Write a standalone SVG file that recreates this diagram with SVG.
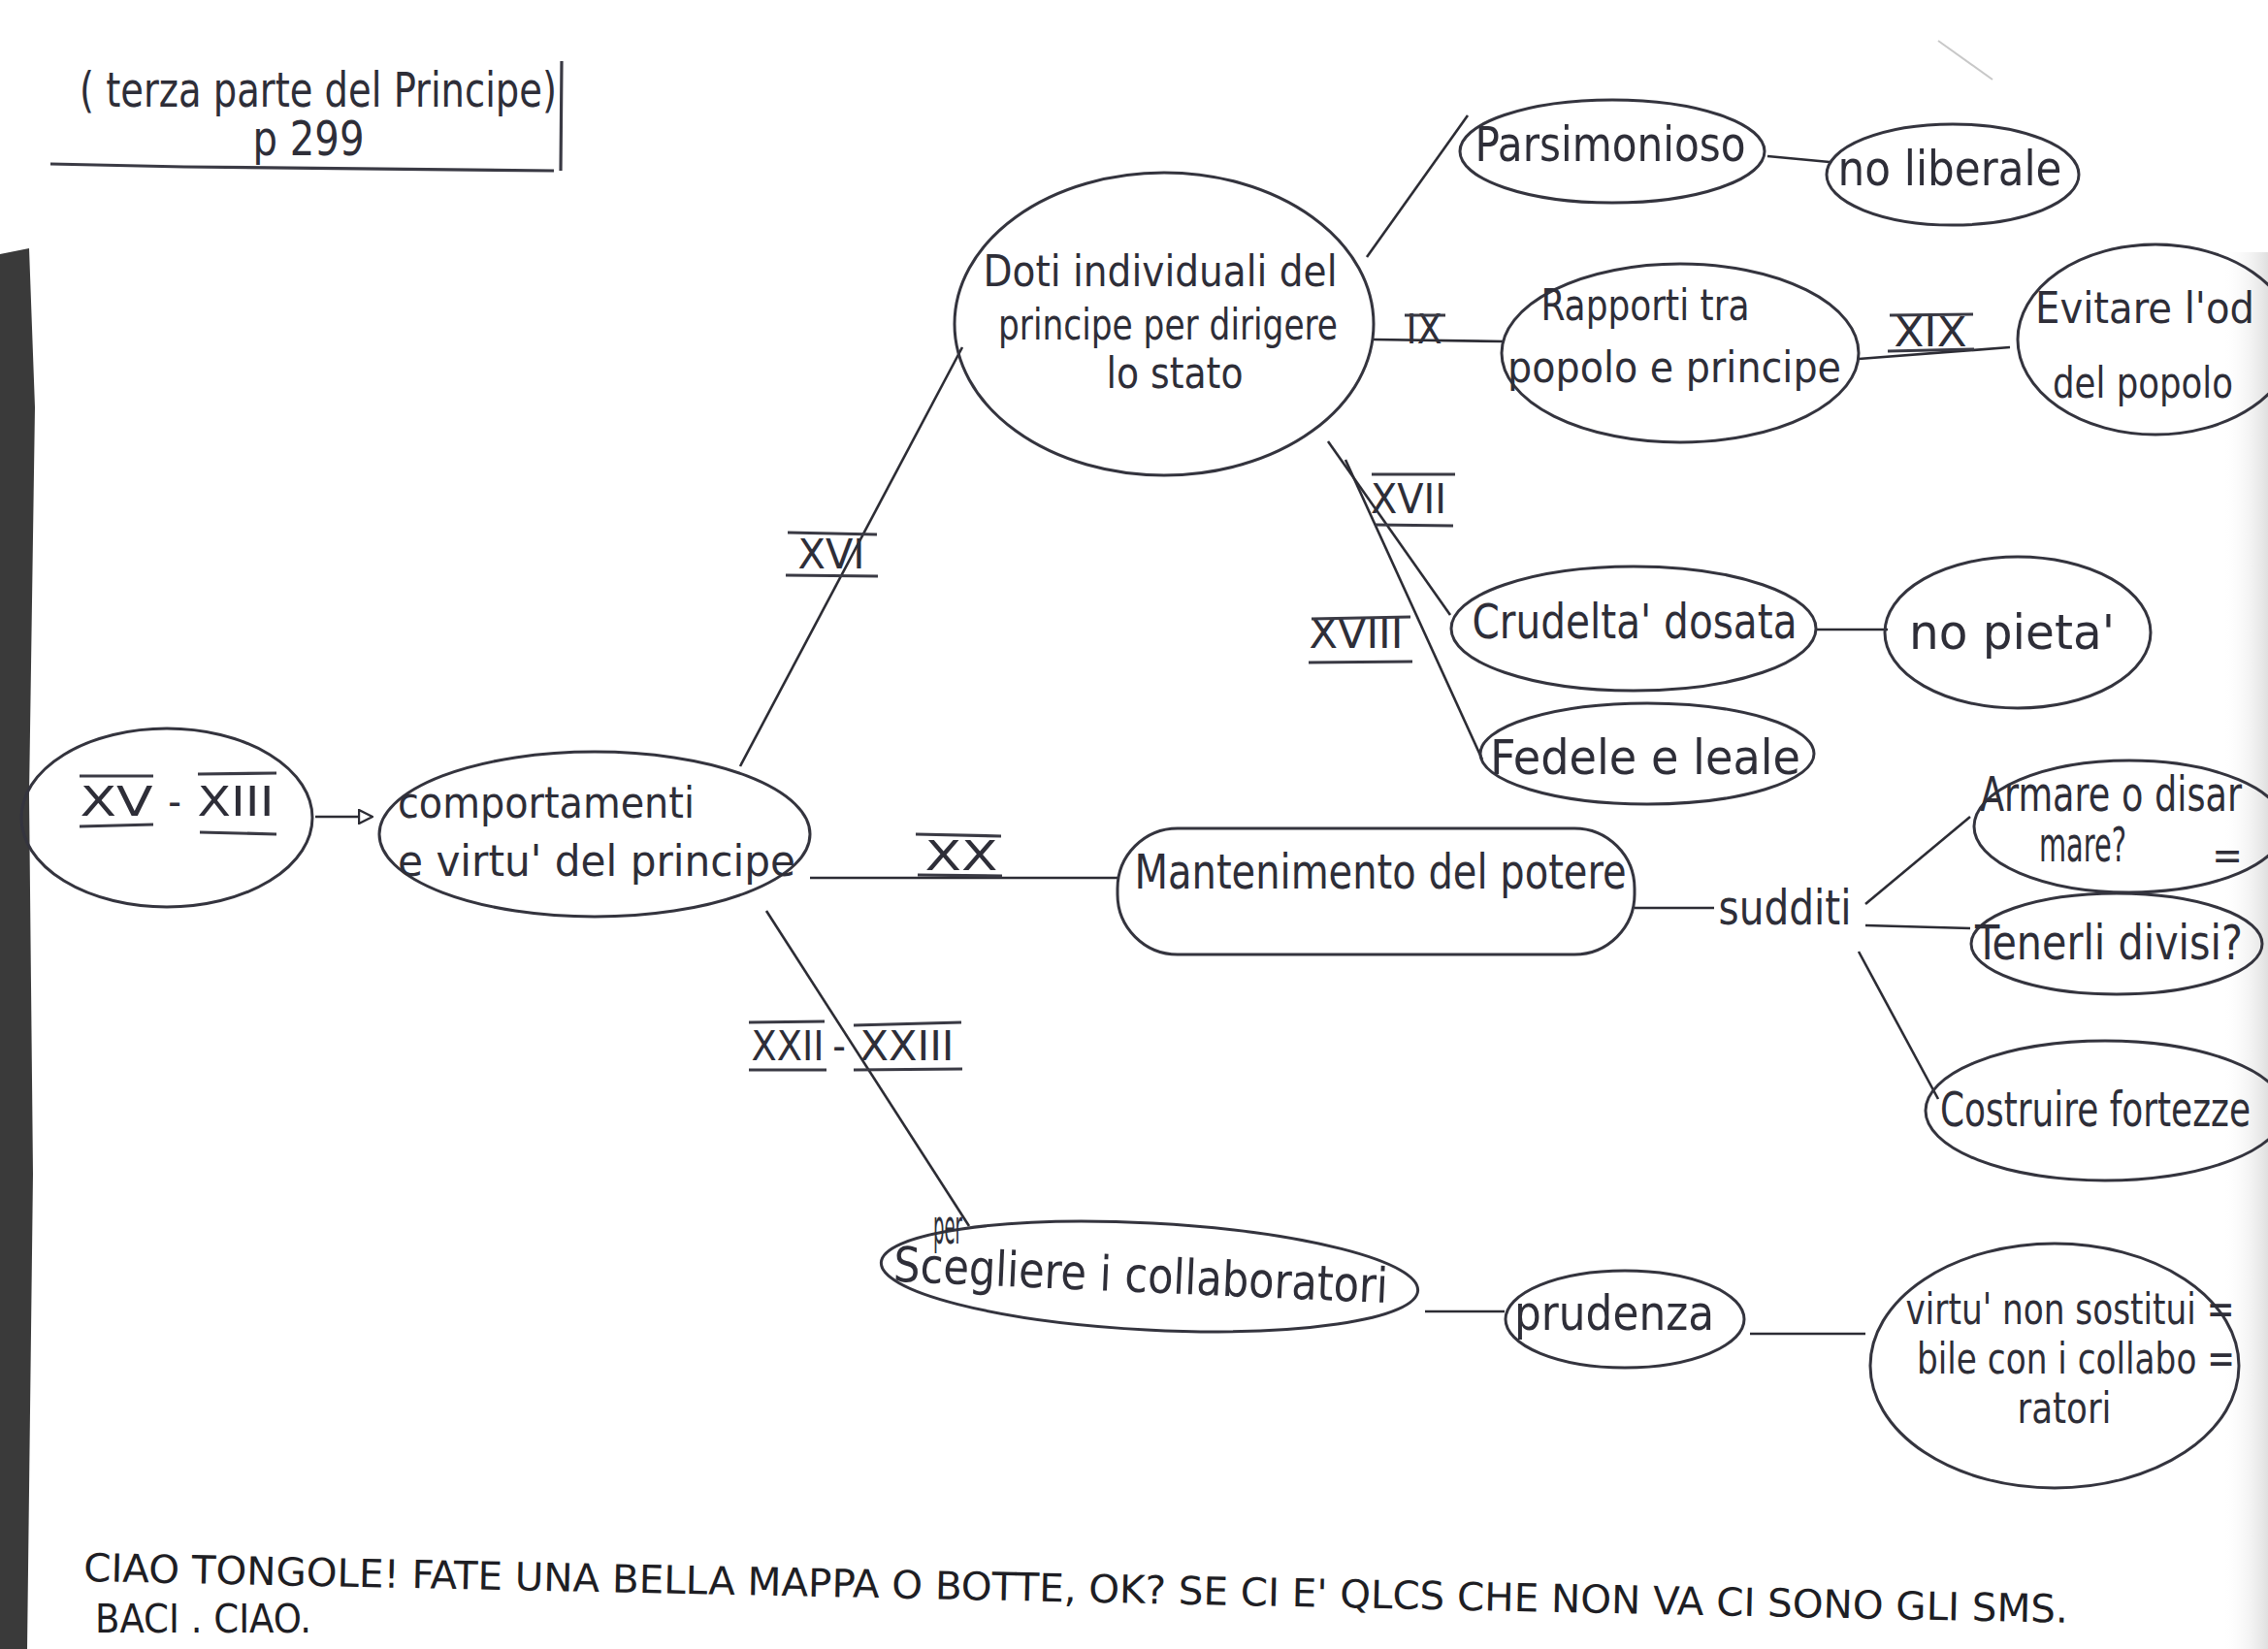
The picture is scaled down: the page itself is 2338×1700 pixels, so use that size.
<svg xmlns="http://www.w3.org/2000/svg" width="2338" height="1700" viewBox="0 0 2338 1700">
<defs>
<style>
.bg{fill:#ffffff}
.node{fill:none;stroke:#34343e;stroke-width:3}
.edge{fill:none;stroke:#2c2c34;stroke-width:2.6}
.rule{fill:none;stroke:#3a3a44;stroke-width:3.2}
.t{font-family:"Liberation Sans Narrow","DejaVu Sans Condensed","Liberation Sans",sans-serif;fill:#2e2e38;font-size:50px;text-anchor:middle}
.m{font-size:44px}
.rn{font-family:"Liberation Sans Narrow","DejaVu Sans Condensed","Liberation Sans",sans-serif;fill:#2e2e38;font-size:42px;text-anchor:middle}
.foot{font-family:"Liberation Sans Narrow","DejaVu Sans Condensed","Liberation Sans",sans-serif;fill:#1e1e24;font-size:40px}
</style>
<marker id="openTri" viewBox="0 0 16 16" refX="2" refY="8" markerWidth="16" markerHeight="16" markerUnits="userSpaceOnUse" orient="auto">
<path d="M1,1 L15,8 L1,15 Z" fill="#fff" stroke="#2c2c34" stroke-width="2.4"/>
</marker>
<linearGradient id="rightShade" x1="0" y1="0" x2="1" y2="0">
<stop offset="0" stop-color="#ffffff" stop-opacity="0"/>
<stop offset="1" stop-color="#d8d8d8" stop-opacity="0.8"/>
</linearGradient>
</defs>
<rect class="bg" x="0" y="0" width="2338" height="1700"/>
<rect x="2290" y="260" width="48" height="1440" fill="url(#rightShade)"/>
<polygon points="0,262 30,256 36,420 30,820 34,1210 28,1700 0,1700" fill="#3a3a3a"/>
<line x1="1998" y1="42" x2="2054" y2="82" stroke="#c8c8c8" stroke-width="2"/>

<g id="title">
<text class="t" x="328" y="110" font-size="44" textLength="492" lengthAdjust="spacingAndGlyphs">( terza parte del Principe)</text>
<text class="t" x="318" y="160" font-size="42" textLength="115" lengthAdjust="spacingAndGlyphs">p 299</text>
<path class="rule" d="M52,169 L190,172 L571,176 M579,63 L578,176"/>
</g>

<g id="connectors">
<line class="edge" x1="325" y1="842" x2="371" y2="842" marker-end="url(#openTri)"/>
<line class="edge" x1="763" y1="790" x2="992" y2="358"/>
<line class="edge" x1="1409" y1="265" x2="1513" y2="119"/>
<line class="edge" x1="1822" y1="161" x2="1886" y2="167"/>
<line class="edge" x1="1416" y1="350" x2="1551" y2="352"/>
<line class="edge" x1="1916" y1="370" x2="2072" y2="358"/>
<line class="edge" x1="1369" y1="455" x2="1495" y2="634"/>
<line class="edge" x1="1387" y1="474" x2="1528" y2="783"/>
<line class="edge" x1="1871" y1="649" x2="1946" y2="649"/>
<line class="edge" x1="835" y1="905" x2="1153" y2="905"/>
<line class="edge" x1="1685" y1="936" x2="1767" y2="936"/>
<line class="edge" x1="1923" y1="932" x2="2031" y2="842"/>
<line class="edge" x1="1923" y1="954" x2="2031" y2="957"/>
<line class="edge" x1="1916" y1="981" x2="1998" y2="1133"/>
<line class="edge" x1="790" y1="939" x2="999" y2="1264"/>
<line class="edge" x1="1469" y1="1352" x2="1551" y2="1352"/>
<line class="edge" x1="1804" y1="1375" x2="1923" y2="1375"/>
</g>

<g id="edge-labels">
<g id="lbl-xvi">
<text class="rn" x="857" y="586" textLength="69" lengthAdjust="spacingAndGlyphs">XVI</text>
<path class="rule" d="M812,549 L904,551 M810,593 L905,594"/>
</g>
<g id="lbl-ix">
<text class="rn" x="1468" y="354" textLength="37" lengthAdjust="spacingAndGlyphs">IX</text>
<path class="rule" d="M1448,325 L1490,325"/>
</g>
<g id="lbl-xix">
<text class="rn" x="1990" y="357" textLength="75" lengthAdjust="spacingAndGlyphs">XIX</text>
<path class="rule" d="M1948,325 L2034,324 M1946,362 L2035,360"/>
</g>
<g id="lbl-xvii">
<text class="rn" x="1452" y="529" textLength="78" lengthAdjust="spacingAndGlyphs">XVII</text>
<path class="rule" d="M1414,489 L1500,489 M1418,541 L1498,542"/>
</g>
<g id="lbl-xviii">
<text class="rn" x="1398" y="668" textLength="97" lengthAdjust="spacingAndGlyphs">XVIII</text>
<path class="rule" d="M1352,638 L1454,636 M1349,683 L1456,682"/>
</g>
<g id="lbl-xx">
<text class="rn" x="991" y="897" textLength="75" lengthAdjust="spacingAndGlyphs">XX</text>
<path class="rule" d="M944,860 L1032,862 M946,902 L1033,903"/>
</g>
<g id="lbl-xxii">
<text class="rn" x="812" y="1093" textLength="75" lengthAdjust="spacingAndGlyphs">XXII</text>
<text class="rn" x="865" y="1093">-</text>
<text class="rn" x="935" y="1093" textLength="97" lengthAdjust="spacingAndGlyphs">XXIII</text>
<path class="rule" d="M772,1054 L850,1053 M880,1057 L991,1054 M772,1103 L852,1103 M880,1103 L992,1102"/>
</g>
</g>

<g id="node-xv">
<ellipse class="node" cx="172" cy="843" rx="150" ry="92"/>
<text class="rn" x="120" y="841" textLength="75" lengthAdjust="spacingAndGlyphs">XV</text>
<text class="rn" x="180" y="841">-</text>
<text class="rn" x="243" y="841" textLength="79" lengthAdjust="spacingAndGlyphs">XIII</text>
<path class="rule" d="M82,800 L158,800 M204,798 L285,797 M82,852 L158,850 M206,858 L285,860"/>
</g>

<g id="node-comportamenti">
<ellipse class="node" cx="613" cy="860" rx="222" ry="85"/>
<text class="t m" x="563" y="843" textLength="306" lengthAdjust="spacingAndGlyphs">comportamenti</text>
<text class="t m" x="615" y="903" textLength="410" lengthAdjust="spacingAndGlyphs">e virtu' del principe</text>
</g>

<g id="node-doti">
<ellipse class="node" cx="1200" cy="334" rx="216" ry="156"/>
<text class="t m" x="1196" y="295" textLength="365" lengthAdjust="spacingAndGlyphs">Doti individuali del</text>
<text class="t m" x="1204" y="350" textLength="350" lengthAdjust="spacingAndGlyphs">principe per dirigere</text>
<text class="t m" x="1211" y="400" textLength="141" lengthAdjust="spacingAndGlyphs">lo stato</text>
</g>

<g id="node-parsimonioso">
<ellipse class="node" cx="1662" cy="156" rx="157" ry="53"/>
<text class="t" x="1660" y="166" textLength="279" lengthAdjust="spacingAndGlyphs">Parsimonioso</text>
</g>

<g id="node-noliberale">
<ellipse class="node" cx="2013" cy="180" rx="130" ry="52"/>
<text class="t" x="2010" y="191" textLength="231" lengthAdjust="spacingAndGlyphs">no liberale</text>
</g>

<g id="node-rapporti">
<ellipse class="node" cx="1732" cy="364" rx="184" ry="92"/>
<text class="t m" x="1696" y="330" textLength="215" lengthAdjust="spacingAndGlyphs">Rapporti tra</text>
<text class="t m" x="1726" y="394" textLength="344" lengthAdjust="spacingAndGlyphs">popolo e principe</text>
</g>

<g id="node-evitare">
<ellipse class="node" cx="2222" cy="350" rx="142" ry="98"/>
<text class="t m" x="2211" y="333" textLength="226" lengthAdjust="spacingAndGlyphs">Evitare l'od</text>
<text class="t m" x="2209" y="410" textLength="186" lengthAdjust="spacingAndGlyphs">del popolo</text>
</g>

<g id="node-crudelta">
<ellipse class="node" cx="1684" cy="648" rx="188" ry="64"/>
<text class="t" x="1685" y="658" textLength="335" lengthAdjust="spacingAndGlyphs">Crudelta' dosata</text>
</g>

<g id="node-pieta">
<ellipse class="node" cx="2080" cy="652" rx="137" ry="78"/>
<text class="t" x="2074" y="669" textLength="212" lengthAdjust="spacingAndGlyphs">no pieta'</text>
</g>

<g id="node-fedele">
<ellipse class="node" cx="1698" cy="777" rx="172" ry="52"/>
<text class="t" x="1696" y="798" textLength="320" lengthAdjust="spacingAndGlyphs">Fedele e leale</text>
</g>

<g id="node-mantenimento">
<rect class="node" x="1152" y="854" width="533" height="130" rx="62" ry="62"/>
<text class="t" x="1423" y="916" textLength="507" lengthAdjust="spacingAndGlyphs">Mantenimento del potere</text>
</g>

<g id="node-sudditi">
<text class="t" x="1840" y="953" textLength="137" lengthAdjust="spacingAndGlyphs">sudditi</text>
</g>

<g id="node-armare">
<ellipse class="node" cx="2195" cy="852" rx="160" ry="68"/>
<text class="t" x="2176" y="836" font-size="40" textLength="270" lengthAdjust="spacingAndGlyphs">Armare o disar</text>
<text class="t" x="2147" y="888" font-size="36" textLength="90" lengthAdjust="spacingAndGlyphs">mare?</text>
<text class="rn" x="2296" y="896" font-size="26">=</text>
</g>

<g id="node-tenerli">
<ellipse class="node" cx="2182" cy="973" rx="150" ry="52"/>
<text class="t" x="2174" y="989" textLength="276" lengthAdjust="spacingAndGlyphs">Tenerli divisi?</text>
</g>

<g id="node-costruire">
<ellipse class="node" cx="2170" cy="1145" rx="185" ry="72"/>
<text class="t" x="2160" y="1161" textLength="320" lengthAdjust="spacingAndGlyphs">Costruire fortezze</text>
</g>

<g id="node-scegliere">
<ellipse class="node" cx="1185" cy="1316" rx="277" ry="55" transform="rotate(3 1185 1316)"/>
<text class="t" x="1176" y="1332" textLength="510" lengthAdjust="spacingAndGlyphs" transform="rotate(2.5 1176 1316)">Scegliere i collaboratori</text>
<text class="t" x="977" y="1282" font-size="26" textLength="30" lengthAdjust="spacingAndGlyphs">per</text>
</g>

<g id="node-prudenza">
<ellipse class="node" cx="1675" cy="1360" rx="123" ry="50"/>
<text class="t" x="1664" y="1371" textLength="206" lengthAdjust="spacingAndGlyphs">prudenza</text>
</g>

<g id="node-virtu">
<ellipse class="node" cx="2118" cy="1408" rx="190" ry="126"/>
<text class="t m" x="2134" y="1365" textLength="339" lengthAdjust="spacingAndGlyphs">virtu' non sostitui =</text>
<text class="t m" x="2140" y="1416" textLength="328" lengthAdjust="spacingAndGlyphs">bile con i collabo =</text>
<text class="t m" x="2128" y="1467" textLength="97" lengthAdjust="spacingAndGlyphs">ratori</text>
</g>

<g id="footer">
<text class="foot" x="86" y="1630" textLength="2046" lengthAdjust="spacingAndGlyphs" transform="rotate(1.2 86 1630)">CIAO TONGOLE! FATE UNA BELLA MAPPA O BOTTE, OK? SE CI E' QLCS CHE NON VA CI SONO GLI SMS.</text>
<text class="foot" x="98" y="1683" textLength="223" lengthAdjust="spacingAndGlyphs">BACI . CIAO.</text>
</g>
</svg>
